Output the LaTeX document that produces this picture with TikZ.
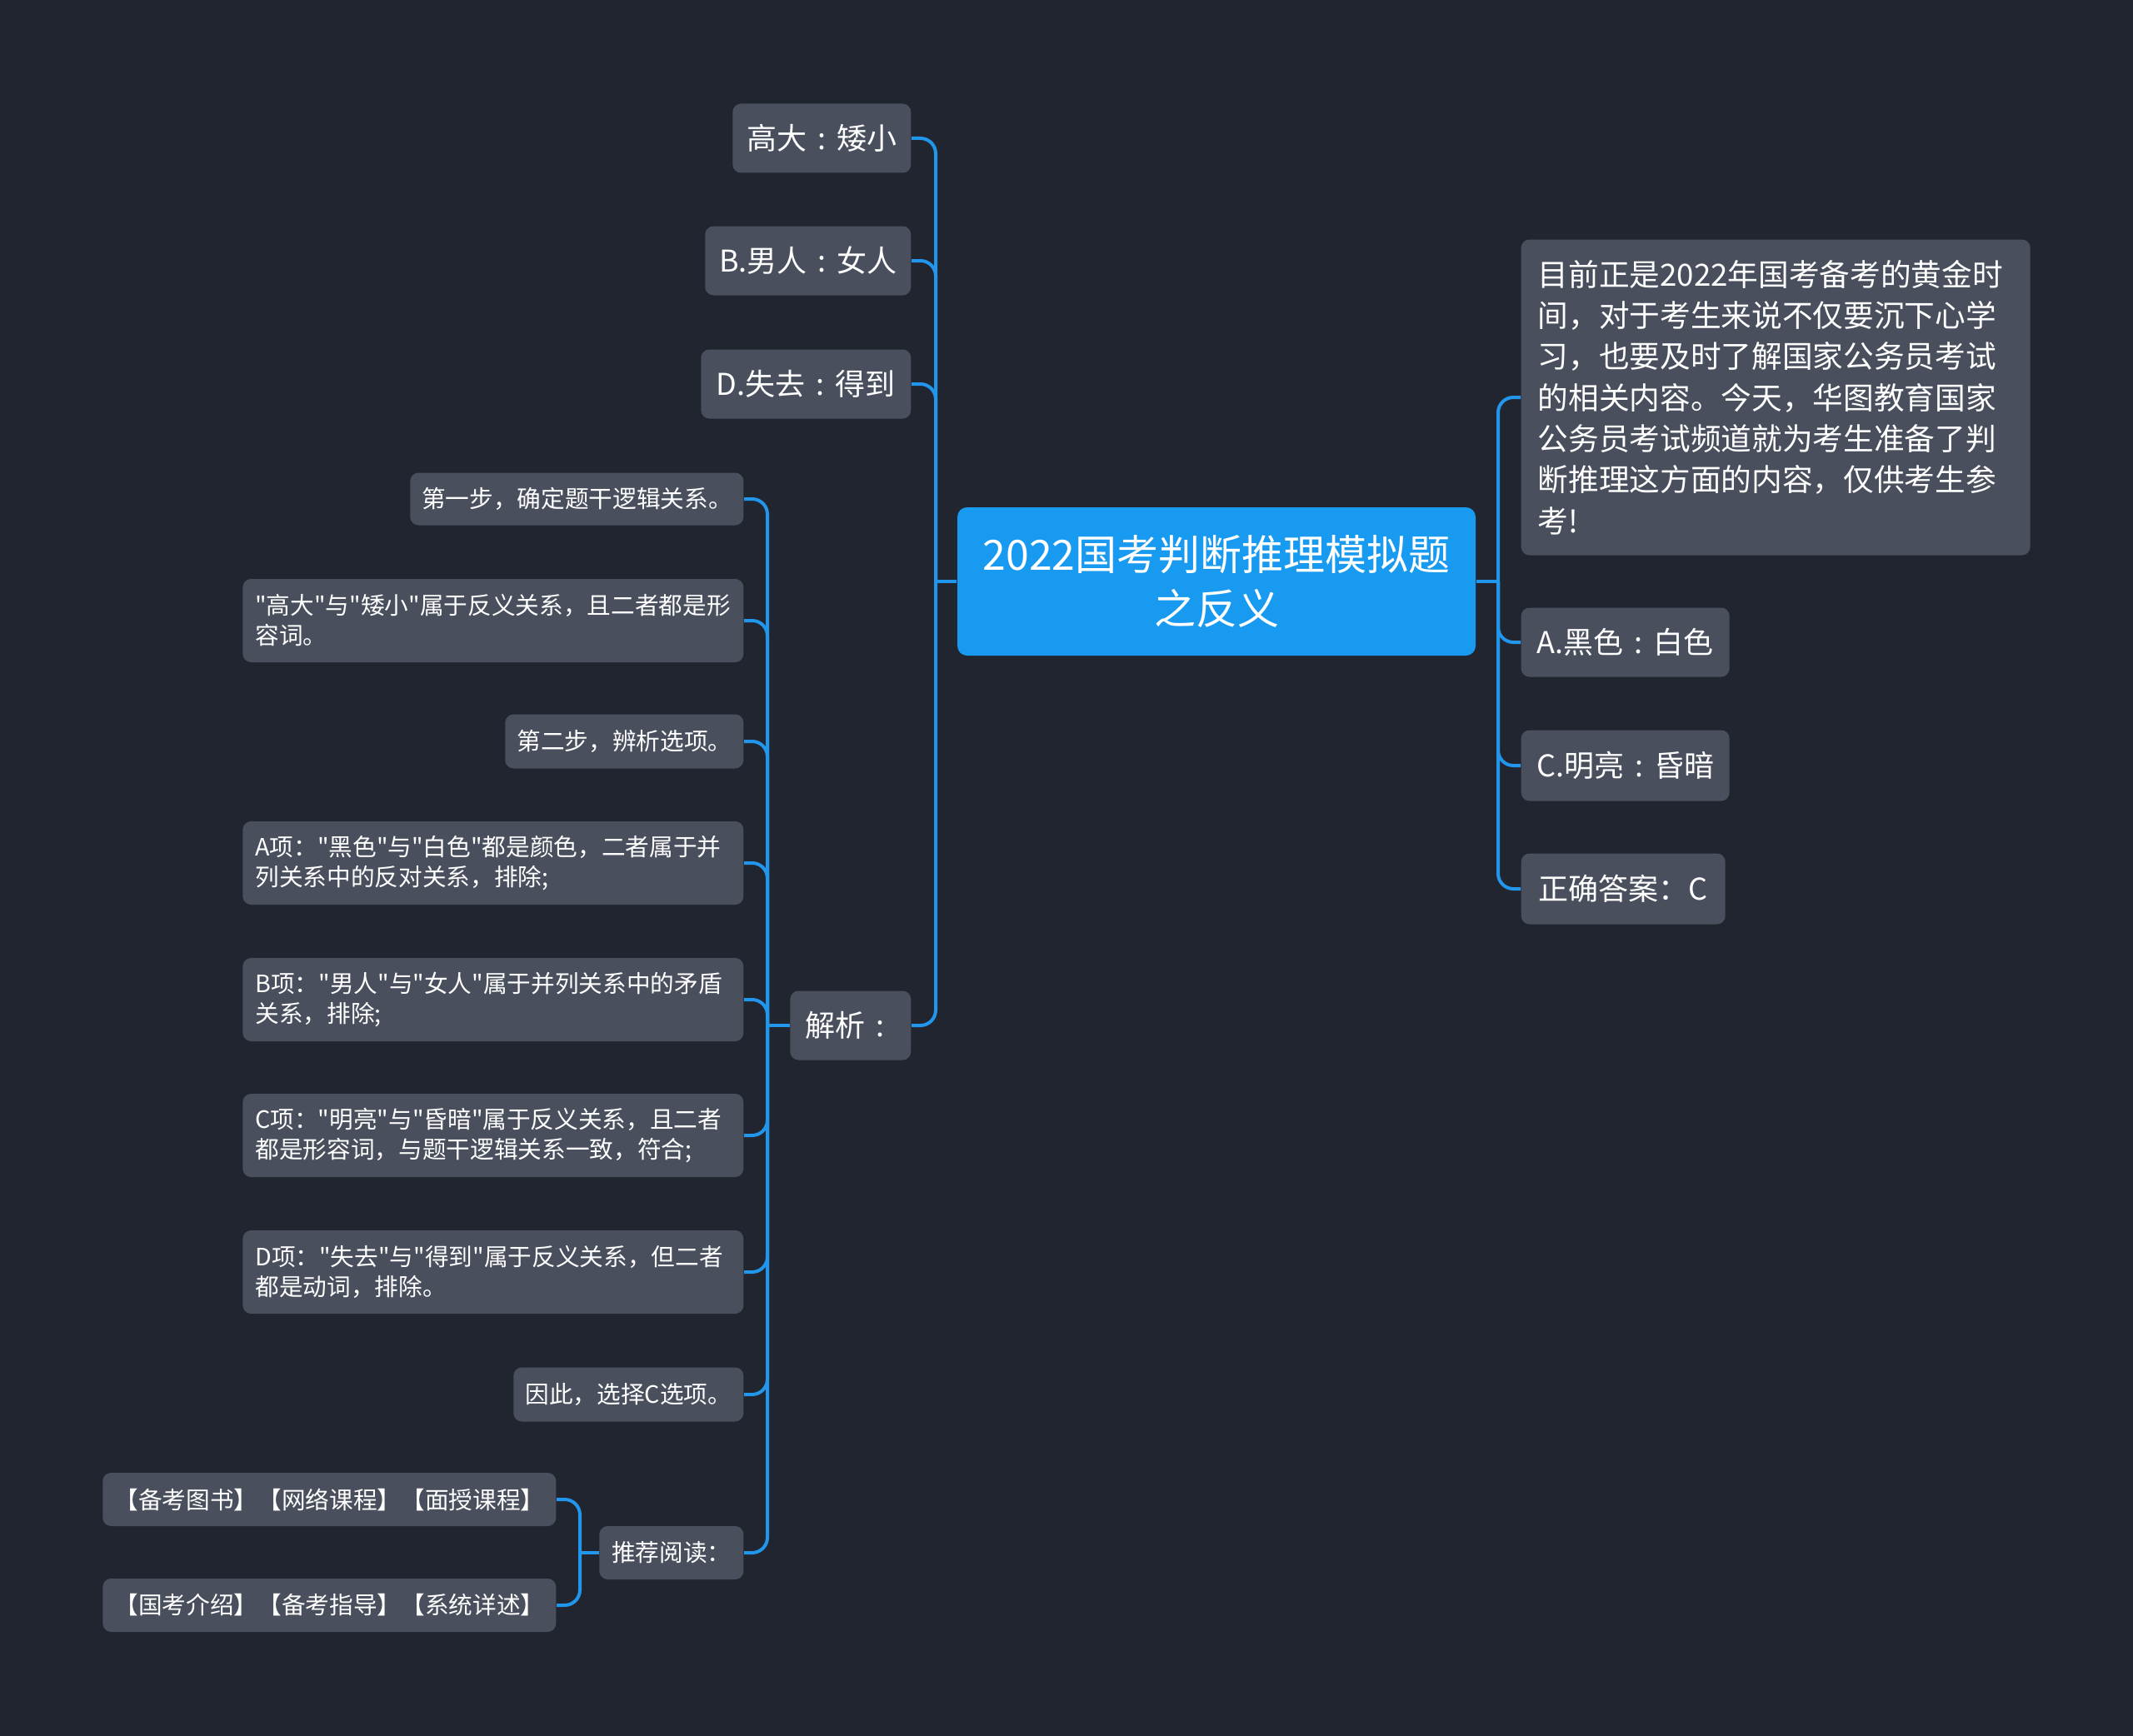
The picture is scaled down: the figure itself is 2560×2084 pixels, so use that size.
\documentclass[tikz,border=0pt]{standalone}
\usepackage{fontspec}
\setmainfont{Noto Sans CJK SC}[Ligatures=TeXOff]
\definecolor{bg}{HTML}{212530}
\definecolor{boxc}{HTML}{4A4F5E}
\definecolor{rootc}{HTML}{189AF0}
\definecolor{linec}{HTML}{2196EA}
\newcommand\cc{\makebox[1em]{:}}
\begin{document}
\begin{tikzpicture}[x=0.3pt,y=-0.3pt,
  base/.style={rounded corners=3pt, fill=boxc, text=white, inner sep=0pt},
  lone/.style={base, font=\fontsize{10.8}{14}\selectfont, minimum height=24.9pt},
  ltwo/.style={base, font=\fontsize{8.6}{10.8}\selectfont, minimum height=19.2pt},
  lmulti/.style={ltwo, align=left, text width=171.3pt, inner xsep=4.5pt, minimum height=30pt},
  conn/.style={draw=linec, line width=1.2pt, rounded corners=5.5pt}]

\fill[bg] (0,0) rectangle (2560,2084);
\useasboundingbox (0,0) rectangle (2560,2084);

% root
\node[base, fill=rootc, rounded corners=3.5pt, font=\fontsize{15}{19.5}\selectfont,
  align=center, minimum width=186.6pt, minimum height=53.4pt] (root) at (1460,698)
  {2022国考判断推理模拟题\\之反义};

% left level 1
\node[lone, anchor=east, minimum width=64.2pt] (n1) at (1094,166) {高大\cc 矮小};
\node[lone, anchor=east, minimum width=74.1pt] (n2) at (1094,313) {B.男人\cc 女人};
\node[lone, anchor=east, minimum width=75.6pt] (n3) at (1094,461) {D.失去\cc 得到};
\node[lone, anchor=east, minimum width=43.5pt] (n4) at (1094,1231) {解析\cc};

% right level 1
\node[base, anchor=west, font=\fontsize{11}{14.8}\selectfont, align=left,
  text width=171.3pt, inner xsep=6pt, minimum height=113.7pt] (r1) at (1825,477)
  {目前正是2022年国考备考的黄金时\\间，对于考生来说不仅要沉下心学\\习，也要及时了解国家公务员考试\\的相关内容。今天，华图教育国家\\公务员考试频道就为考生准备了判\\断推理这方面的内容，仅供考生参\\考!};
\node[lone, anchor=west, minimum width=75pt] (r2) at (1825,771) {A.黑色\cc 白色};
\node[lone, anchor=west, minimum width=75pt, minimum height=25.5pt] (r3) at (1825,919) {C.明亮\cc 昏暗};
\node[lone, anchor=west, minimum width=73.5pt, minimum height=25.5pt] (r4) at (1825,1067) {正确答案：C};

% level 2 under 解析
\node[ltwo, anchor=east, minimum width=120pt, minimum height=18.9pt] (m1) at (893,599) {第一步，确定题干逻辑关系。};
\node[lmulti, anchor=east] (m2) at (893,745) {"高大"与"矮小"属于反义关系，且二者都是形\\容词。};
\node[ltwo, anchor=east, minimum width=85.8pt, minimum height=19.5pt] (m3) at (893,890) {第二步，辨析选项。};
\node[lmulti, anchor=east] (m4) at (893,1036) {A项："黑色"与"白色"都是颜色，二者属于并\\列关系中的反对关系，排除;};
\node[lmulti, anchor=east] (m5) at (893,1200) {B项："男人"与"女人"属于并列关系中的矛盾\\关系，排除;};
\node[lmulti, anchor=east] (m6) at (893,1363) {C项："明亮"与"昏暗"属于反义关系，且二者\\都是形容词，与题干逻辑关系一致，符合;};
\node[lmulti, anchor=east] (m7) at (893,1527) {D项："失去"与"得到"属于反义关系，但二者\\都是动词，排除。};
\node[ltwo, anchor=east, minimum width=82.8pt, minimum height=19.5pt] (m8) at (893,1674) {因此，选择C选项。};
\node[ltwo, anchor=east, minimum width=51.9pt] (m9) at (893,1864) {推荐阅读：};

% level 3
\node[ltwo, anchor=east, minimum width=163.2pt] (k1) at (668,1800) {【备考图书】【网络课程】【面授课程】};
\node[ltwo, anchor=east, minimum width=163.2pt] (k2) at (668,1927) {【国考介绍】【备考指导】【系统详述】};

% connectors
\coordinate (Lj) at (1123,698);
\coordinate (Rj) at (1798,698);
\coordinate (Mj) at (921,1231);
\coordinate (Kj) at (696,1864);
\draw[conn] (root.west) -- (Lj);
\foreach \c in {n1,n2,n3,n4} \draw[conn] (Lj) |- (\c.east);
\draw[conn] (root.east) -- (Rj);
\foreach \c in {r1,r2,r3,r4} \draw[conn] (Rj) |- (\c.west);
\draw[conn] (n4.west) -- (Mj);
\foreach \c in {m1,m2,m3,m4,m5,m6,m7,m8,m9} \draw[conn] (Mj) |- (\c.east);
\draw[conn] (m9.west) -- (Kj);
\foreach \c in {k1,k2} \draw[conn] (Kj) |- (\c.east);
\end{tikzpicture}
\end{document}
